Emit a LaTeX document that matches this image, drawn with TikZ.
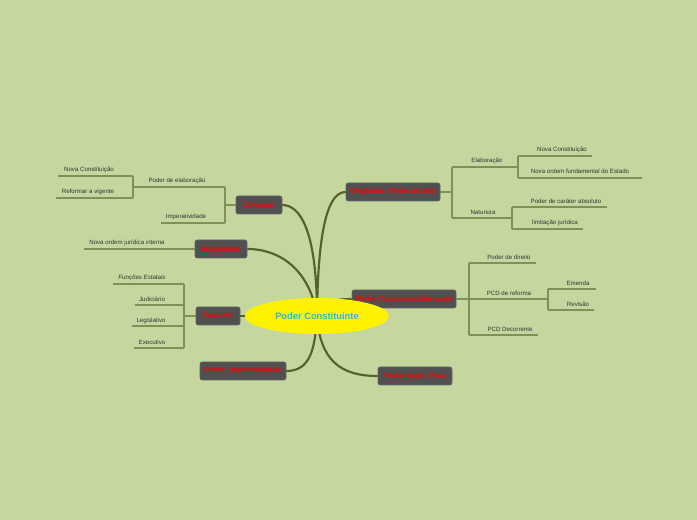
\documentclass[tikz,border=0pt]{standalone}
\usepackage{fontspec}
\setmainfont{Liberation Sans}
\usetikzlibrary{shapes.geometric}
\definecolor{bgc}{RGB}{197,215,158}
\definecolor{boxc}{RGB}{80,80,80}
\definecolor{brc}{RGB}{128,145,88}
\definecolor{connc}{RGB}{85,98,40}
\definecolor{rootc}{RGB}{39,184,230}
\begin{document}
\begin{tikzpicture}[x=0.75pt,y=-0.75pt,
 box/.style={draw=black!60,fill=boxc,rounded corners=1.5pt,text=red,font=\fontsize{5.5}{6}\selectfont\bfseries,minimum height=13.5pt,inner sep=0pt},
 leaf/.style={font=\fontsize{4.6}{5}\selectfont,text=black!80,inner sep=0pt},
 br/.style={draw=brc,line width=0.8pt},
 conn/.style={draw=connc,line width=1.6pt}]
\fill[bgc] (0,0) rectangle (697,520);
\useasboundingbox (0,0) rectangle (697,520);
\coordinate (c) at (317,316);
\node[box,minimum width=34.5pt] (con) at (259,205) {Conceito};
\node[box,minimum width=39pt] (est) at (221,249) {Estabelece};
\node[box,minimum width=33pt] (sup) at (218,316) {Superior};
\node[box,minimum width=64.5pt] (imp) at (243,371) {Poder\_Imperatividade};
\node[box,minimum width=70.5pt] (ori) at (393,192) {Originário\_Poder de fato};
\node[box,minimum width=78pt] (pcd) at (404,299) {Poder Constituído Derivado};
\node[box,minimum width=55.5pt] (tit) at (415,376) {Titularidade\_Povo};
\draw[conn] (c) .. controls (317,230) and (300,205) .. (con.east);
\draw[conn] (c) .. controls (310,270) and (280,249) .. (est.east);
\draw[conn] (c) -- (sup.east);
\draw[conn] (c) .. controls (315,350) and (310,371) .. (imp.east);
\draw[conn] (c) .. controls (318,220) and (330,192) .. (ori.west);
\draw[conn] (c) .. controls (320,300) and (340,299) .. (pcd.west);
\draw[conn] (c) .. controls (320,360) and (340,376) .. (tit.west);
\node[ellipse,fill=yellow,minimum width=108pt,minimum height=27pt,inner sep=0pt,text=rootc,font=\fontsize{7}{8}\selectfont\bfseries] (root) at (317,316) {Poder Constituinte};
% Conceito
\draw[br] (con.west) -- (225,205);
\draw[br] (225,187) -- (225,223);
\draw[br] (133,187) -- (225,187); \node[leaf] (pe) at (177,181) {Poder de elaboração};
\draw[br] (161,223) -- (225,223); \node[leaf] (ip) at (186,217) {Imperatividade};
\draw[br] (133,176) -- (133,198);
\draw[br] (58,176) -- (133,176); \node[leaf] (nc1) at (89,170) {Nova Constituição};
\draw[br] (56,198) -- (133,198); \node[leaf] (rv) at (88,192) {Reformar a vigente};
% Estabelece
\draw[br] (84,249) -- (est.west); \node[leaf] (noi) at (127,243) {Nova ordem jurídica interna};
% Superior
\draw[br] (sup.west) -- (184,316);
\draw[br] (184,284) -- (184,348);
\draw[br] (113,284) -- (184,284); \node[leaf,font=\fontsize{4.6}{5}\selectfont\itshape] (fe) at (142,278) {Funções Estatais};
\draw[br] (135,305) -- (184,305); \node[leaf] (ju) at (152,299) {Judiciário};
\draw[br] (132,326) -- (184,326); \node[leaf] (le) at (151,321) {Legislativo};
\draw[br] (134,348) -- (184,348); \node[leaf] (ex) at (152,342) {Executivo};
% Originario
\draw[br] (ori.east) -- (452,192);
\draw[br] (452,167) -- (452,218);
\draw[br] (452,167) -- (518,167); \node[leaf] (el) at (487,161) {Elaboração};
\draw[br] (518,156) -- (518,178);
\draw[br] (518,156) -- (592,156); \node[leaf] (nc2) at (562,150) {Nova Constituição};
\draw[br] (518,178) -- (642,178); \node[leaf] (nof) at (580,171) {Nova ordem fundamental do Estado};
\draw[br] (452,218) -- (512,218); \node[leaf] (na) at (483,212) {Natureza};
\draw[br] (512,207) -- (512,229);
\draw[br] (512,207) -- (607,207); \node[leaf] (pca) at (566,201) {Poder de caráter absoluto};
\draw[br] (512,229) -- (583,229); \node[leaf] (lj) at (555,223) {limitação jurídica};
% PCD
\draw[br] (pcd.east) -- (469,299);
\draw[br] (469,263) -- (469,335);
\draw[br] (469,263) -- (536,263); \node[leaf] (pd) at (509,257) {Poder de direito};
\draw[br] (469,299) -- (548,299); \node[leaf] (pr) at (509,293) {PCD de reforma};
\draw[br] (548,289) -- (548,310);
\draw[br] (548,289) -- (596,289); \node[leaf] (em) at (578,283) {Emenda};
\draw[br] (548,310) -- (594,310); \node[leaf] (re) at (578,304) {Revisão};
\draw[br] (469,335) -- (538,335); \node[leaf] (dec) at (510,329) {PCD Decorrente};
\end{tikzpicture}
\end{document}
